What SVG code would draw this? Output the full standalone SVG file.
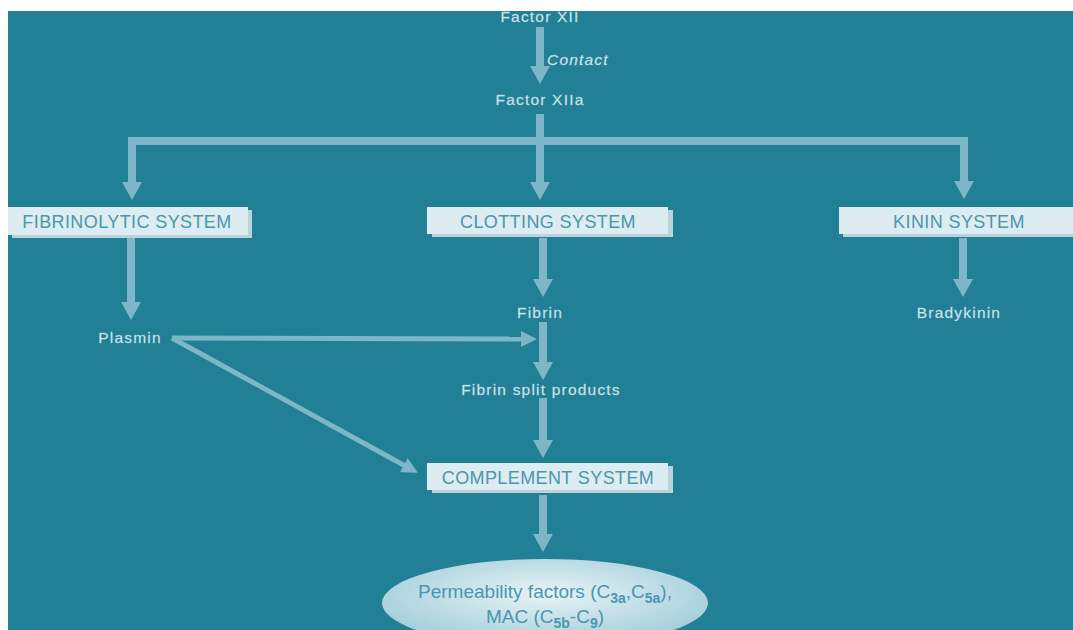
<svg xmlns="http://www.w3.org/2000/svg" width="1073" height="630" viewBox="0 0 1073 630">
<defs>
<style>
.lbl{font-family:"Liberation Sans",Arial,sans-serif;font-size:15.5px;fill:#dcecf1;letter-spacing:1.2px;text-anchor:middle;stroke:#9cc6d2;stroke-width:0.3px}
.box{fill:#dcecf1}
.shadow{fill:#b9d3db}
.btxt{font-family:"Liberation Sans",Arial,sans-serif;font-size:18px;fill:#4a97ad;text-anchor:middle;letter-spacing:0.4px}
.ell{font-family:"Liberation Sans",Arial,sans-serif;font-size:19px;fill:#4a97ad;text-anchor:middle}
.sub{font-size:14px;font-weight:bold}
.sh{stroke:#7db6c6;stroke-width:8;fill:none}
.sh2{stroke:#7db6c6;stroke-width:5;fill:none}
</style>
<marker id="ah" viewBox="0 0 18 20" refX="8" refY="10" markerWidth="18" markerHeight="20" markerUnits="userSpaceOnUse" orient="auto-start-reverse">
<path d="M0,0 L18,10 L0,20 z" fill="#7db6c6"/>
</marker>
<marker id="ah2" viewBox="0 0 16 16" refX="6" refY="8" markerWidth="16" markerHeight="16" markerUnits="userSpaceOnUse" orient="auto">
<path d="M0,0 L16,8 L0,16 z" fill="#7db6c6"/>
</marker>
<radialGradient id="eg" cx="0.5" cy="0.4" r="0.55">
<stop offset="0" stop-color="#e8f3f6"/>
<stop offset="1" stop-color="#a7d0dc"/>
</radialGradient>
</defs>
<rect x="0" y="0" width="1073" height="630" fill="#ffffff"/>
<rect x="8" y="11" width="1065" height="619" fill="#217f96"/>

<g id="connectors">
<line class="sh" x1="540" y1="27" x2="540" y2="74" marker-end="url(#ah)"/>
<line class="sh" x1="540" y1="114" x2="540" y2="190" marker-end="url(#ah)"/>
<polyline class="sh" points="132,190 132,141 964,141 964,189" marker-start="url(#ah)" marker-end="url(#ah)"/>
<line class="sh" x1="131" y1="238" x2="131" y2="310" marker-end="url(#ah)"/>
<line class="sh" x1="543" y1="238" x2="543" y2="287" marker-end="url(#ah)"/>
<line class="sh" x1="963" y1="238" x2="963" y2="287" marker-end="url(#ah)"/>
<line class="sh" x1="543" y1="322" x2="543" y2="370" marker-end="url(#ah)"/>
<line class="sh" x1="543" y1="398" x2="543" y2="448" marker-end="url(#ah)"/>
<line class="sh" x1="543" y1="495" x2="543" y2="542" marker-end="url(#ah)"/>
<line class="sh2" x1="172" y1="338" x2="527" y2="339" marker-end="url(#ah2)"/>
<line class="sh2" x1="172" y1="338" x2="409" y2="468" marker-end="url(#ah2)"/>
</g>

<g id="factor-xii"><text class="lbl" x="540" y="22">Factor XII</text></g>
<g id="contact"><text class="lbl" x="547" y="65" style="text-anchor:start;font-style:italic">Contact</text></g>
<g id="factor-xiia"><text class="lbl" x="540" y="105">Factor XIIa</text></g>

<g id="fibrinolytic">
<rect class="shadow" x="12" y="210" width="240" height="28"/>
<rect class="box" x="8" y="207" width="240" height="28"/>
<text class="btxt" x="127" y="228">FIBRINOLYTIC SYSTEM</text>
</g>
<g id="clotting">
<rect class="shadow" x="432" y="210" width="241" height="27"/>
<rect class="box" x="427" y="207" width="241" height="27"/>
<text class="btxt" x="548" y="228">CLOTTING SYSTEM</text>
</g>
<g id="kinin">
<rect class="shadow" x="843" y="210" width="235" height="27"/>
<rect class="box" x="839" y="207" width="235" height="27"/>
<text class="btxt" x="959" y="228">KININ SYSTEM</text>
</g>

<g id="plasmin"><text class="lbl" x="130" y="343">Plasmin</text></g>
<g id="fibrin"><text class="lbl" x="540" y="318">Fibrin</text></g>
<g id="bradykinin"><text class="lbl" x="959" y="318">Bradykinin</text></g>
<g id="fsp"><text class="lbl" x="541" y="395">Fibrin split products</text></g>

<g id="complement">
<rect class="shadow" x="432" y="466" width="241" height="27"/>
<rect class="box" x="427" y="463" width="241" height="27"/>
<text class="btxt" x="548" y="484">COMPLEMENT SYSTEM</text>
</g>

<g id="permeability">
<ellipse cx="545" cy="603" rx="163" ry="44" fill="url(#eg)"/>
<text class="ell" x="545" y="598">Permeability factors (C<tspan class="sub" dy="5">3a</tspan><tspan dy="-5">,C</tspan><tspan class="sub" dy="5">5a</tspan><tspan dy="-5">),</tspan></text>
<text class="ell" x="545" y="623">MAC (C<tspan class="sub" dy="5">5b</tspan><tspan dy="-5">-C</tspan><tspan class="sub" dy="5">9</tspan><tspan dy="-5">)</tspan></text>
</g>
</svg>
